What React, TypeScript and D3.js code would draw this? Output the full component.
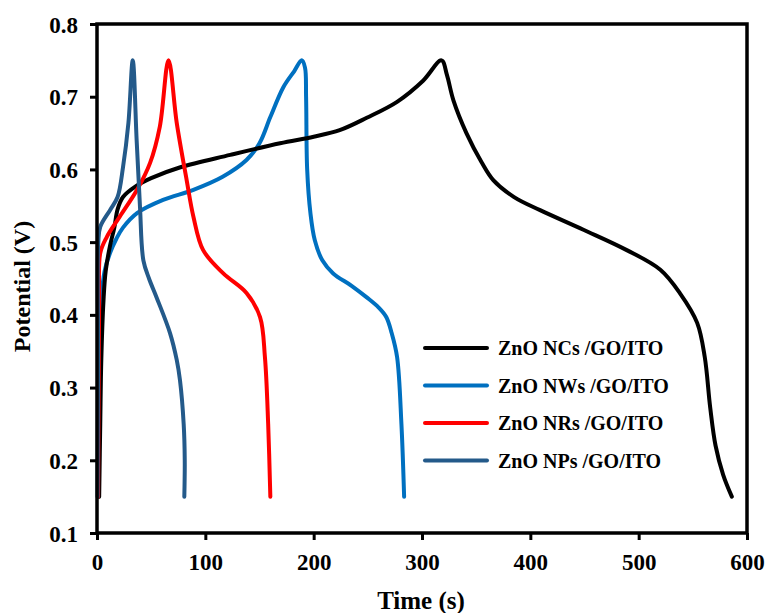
import React, { useEffect, useRef } from 'react';
import * as d3 from 'd3';

// time (s), potential (V)
const ncsTime = [2, 3, 4, 6, 8, 12, 16, 19, 24, 36, 50, 77, 123, 169, 200, 224, 249, 277, 301, 318, 323, 329, 341, 355, 366, 385, 409, 449, 489, 520, 538, 554, 561, 566, 571, 578, 586];
const ncsPot = [0.15, 0.25, 0.34, 0.42, 0.46, 0.495, 0.52, 0.545, 0.562, 0.577, 0.588, 0.603, 0.62, 0.636, 0.645, 0.654, 0.671, 0.693, 0.722, 0.75, 0.73, 0.695, 0.65, 0.61, 0.585, 0.562, 0.544, 0.517, 0.489, 0.462, 0.43, 0.389, 0.342, 0.273, 0.22, 0.18, 0.15];

const nwsTime = [1, 2, 4, 7, 12, 18, 24, 37, 61, 89, 116, 138, 150, 160, 172, 182, 189, 192, 193, 194, 197, 201, 208, 218, 235, 249, 260, 267, 272, 277, 281, 283.5];
const nwsPot = [0.15, 0.3, 0.42, 0.46, 0.485, 0.505, 0.52, 0.54, 0.558, 0.572, 0.59, 0.613, 0.636, 0.672, 0.713, 0.735, 0.75, 0.74, 0.7, 0.6, 0.54, 0.503, 0.475, 0.457, 0.44, 0.424, 0.41, 0.397, 0.375, 0.342, 0.25, 0.15];

const nrsTime = [1, 1.5, 2, 3, 9, 21, 37, 49, 58, 66, 73.6, 82.8, 89, 98, 116.6, 138, 150.5, 155, 158, 160];
const nrsPot = [0.15, 0.3, 0.42, 0.485, 0.507, 0.535, 0.572, 0.609, 0.659, 0.75, 0.664, 0.585, 0.535, 0.489, 0.457, 0.43, 0.397, 0.342, 0.25, 0.15];

const npsTime = [0.5, 1, 1.2, 3, 12, 19, 24, 29, 33, 36.6, 39.7, 42.8, 48, 55, 67.4, 73.6, 76.6, 80, 81, 80.6];
const npsPot = [0.15, 0.35, 0.5, 0.521, 0.544, 0.562, 0.603, 0.664, 0.75, 0.64, 0.548, 0.475, 0.45, 0.424, 0.375, 0.338, 0.31, 0.25, 0.2, 0.15];

const seriesNames = ['ZnO NCs /GO/ITO', 'ZnO NWs /GO/ITO', 'ZnO NRs /GO/ITO', 'ZnO NPs /GO/ITO'];
const seriesColors = ['#000000', '#0070C0', '#FF0000', '#245A8A'];
const xTicks = [0, 100, 200, 300, 400, 500, 600];
const yTicks = [0.1, 0.2, 0.3, 0.4, 0.5, 0.6, 0.7, 0.8];

const App = () => {
  const svgRef = useRef<SVGSVGElement>(null);

  useEffect(() => {
    const svg = d3.select(svgRef.current);
    svg.selectAll('*').remove();

    const width = 765;
    const height = 613;
    const margin = { top: 24, right: 18, bottom: 80, left: 97 };
    const innerW = width - margin.left - margin.right;
    const innerH = height - margin.top - margin.bottom;
    const font = '"Liberation Serif", "Times New Roman", serif';

    const x = d3.scaleLinear().domain([0, 600]).range([0, innerW]);
    const y = d3.scaleLinear().domain([0.1, 0.8]).range([innerH, 0]);

    const chart = svg.append('g').attr('transform', `translate(${margin.left},${margin.top})`);

    const line = d3.line<[number, number]>()
      .x((d) => x(d[0]))
      .y((d) => y(d[1]))
      .curve(d3.curveCatmullRom.alpha(0.5));

    const series = [
      { t: ncsTime, v: ncsPot },
      { t: nwsTime, v: nwsPot },
      { t: nrsTime, v: nrsPot },
      { t: npsTime, v: npsPot },
    ];
    const drawOrder = [1, 0, 2, 3];
    drawOrder.forEach((i) => {
      const pts = series[i].t.map((t, j) => [t, series[i].v[j]] as [number, number]);
      chart.append('path')
        .attr('d', line(pts))
        .attr('fill', 'none')
        .attr('stroke', seriesColors[i])
        .attr('stroke-width', 4)
        .attr('stroke-linejoin', 'round')
        .attr('stroke-linecap', 'round');
    });

    // axes
    const xAxis = chart.append('g')
      .attr('transform', `translate(0,${innerH})`)
      .call(d3.axisBottom(x).tickValues(xTicks).tickSize(7).tickSizeOuter(0).tickFormat(d3.format('d')));
    const yAxis = chart.append('g')
      .call(d3.axisLeft(y).tickValues(yTicks).tickSize(7).tickSizeOuter(0).tickFormat(d3.format('.1f')));

    [xAxis, yAxis].forEach((a) => {
      a.select('.domain').remove();
      a.selectAll('line').attr('stroke', '#000').attr('stroke-width', 3);
      a.selectAll('text')
        .attr('fill', '#000')
        .style('font-family', font)
        .style('font-weight', 'bold')
        .style('font-size', '23px');
    });
    xAxis.selectAll('text').attr('dy', null).attr('y', 37);
    yAxis.selectAll('text').attr('x', -19).attr('dy', '0.35em');

    chart.append('rect')
      .attr('width', innerW)
      .attr('height', innerH)
      .attr('fill', 'none')
      .attr('stroke', '#000')
      .attr('stroke-width', 3.5);

    // axis titles
    svg.append('text')
      .attr('x', margin.left + innerW / 2 - 1)
      .attr('y', 609)
      .attr('text-anchor', 'middle')
      .style('font-family', font)
      .style('font-weight', 'bold')
      .style('font-size', '25px')
      .text('Time (s)');

    svg.append('text')
      .attr('transform', `translate(30,${margin.top + innerH / 2 + 8}) rotate(-90)`)
      .attr('text-anchor', 'middle')
      .style('font-family', font)
      .style('font-weight', 'bold')
      .style('font-size', '24px')
      .text('Potential (V)');

    // legend
    const legend = svg.append('g').attr('transform', 'translate(425,348)');
    seriesNames.forEach((name, i) => {
      const row = legend.append('g').attr('transform', `translate(0,${i * 37.5})`);
      row.append('line')
        .attr('x1', 0).attr('x2', 62)
        .attr('stroke', seriesColors[i])
        .attr('stroke-width', 4)
        .attr('stroke-linecap', 'round');
      row.append('text')
        .attr('x', 73)
        .attr('dy', '0.35em')
        .style('font-family', font)
        .style('font-weight', 'bold')
        .style('font-size', '20px')
        .text(name);
    });
  }, []);

  return (
    <svg
      ref={svgRef}
      width={765}
      height={613}
      style={{ position: 'absolute', left: 0, top: 0, background: '#fff' }}
    />
  );
};

export default App;
